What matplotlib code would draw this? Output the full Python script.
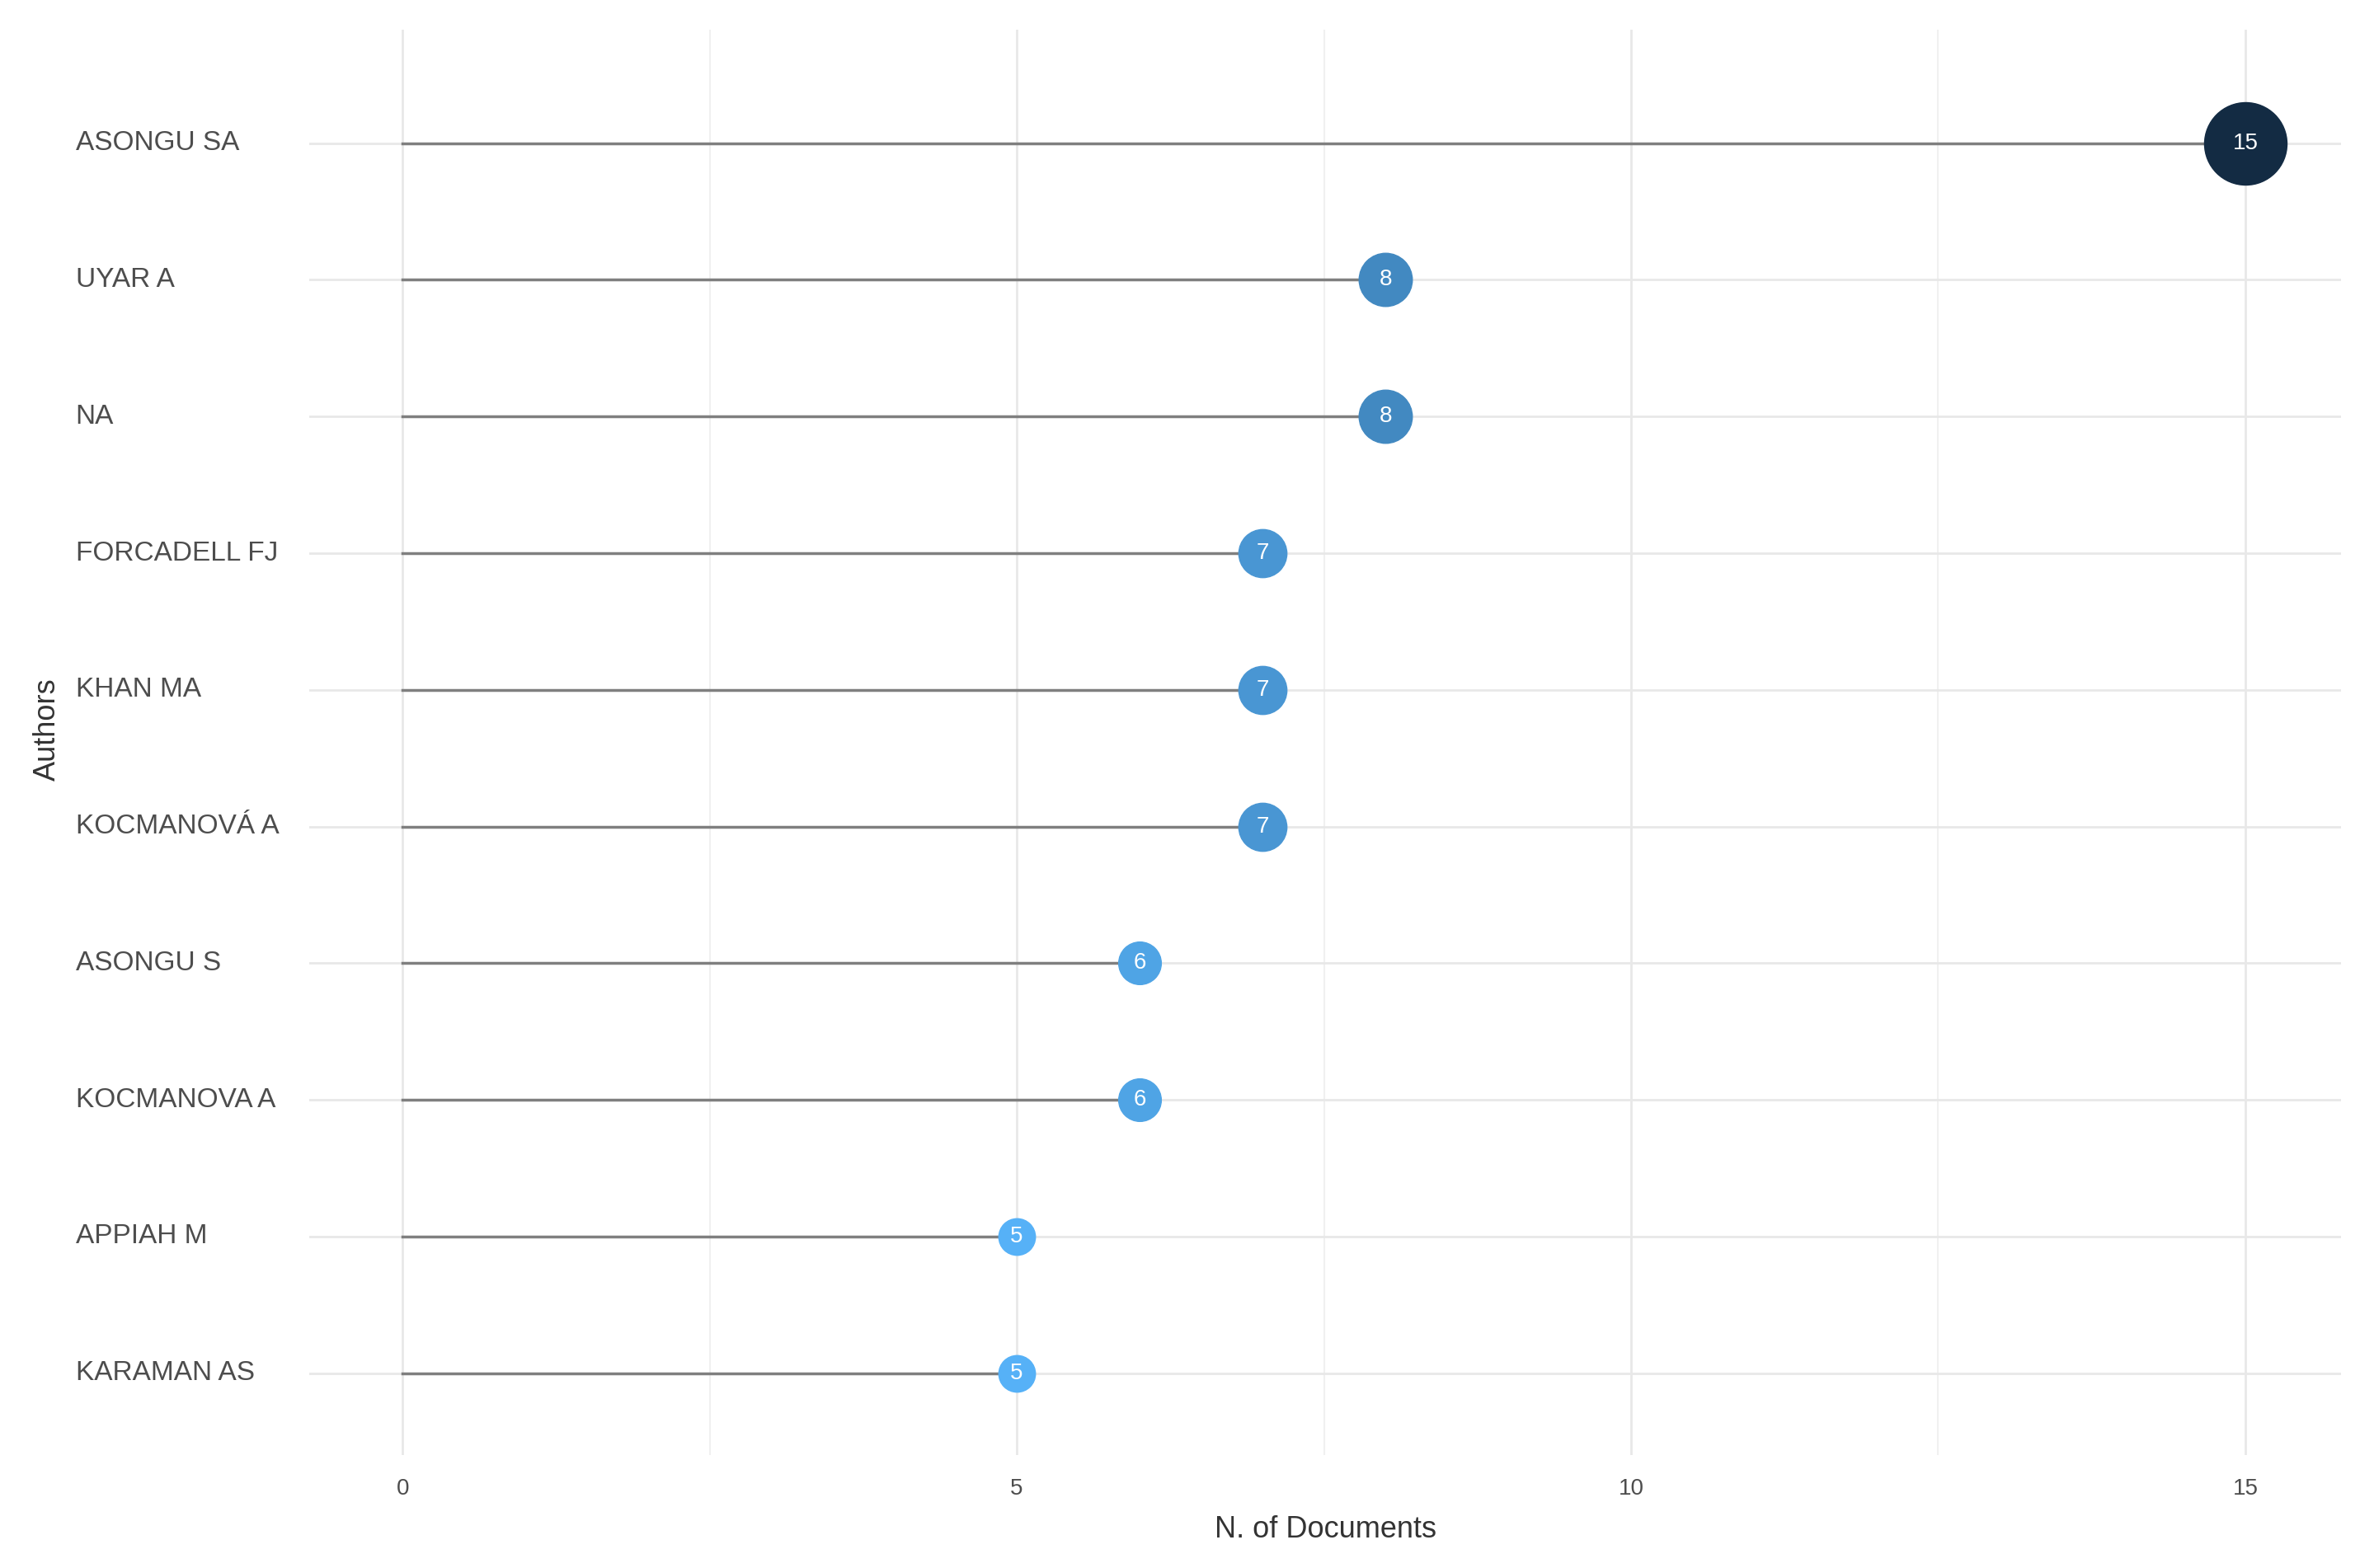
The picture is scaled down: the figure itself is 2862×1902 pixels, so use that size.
import numpy as np
import matplotlib.pyplot as plt
import matplotlib.colors as mcolors

authors = ["ASONGU SA", "UYAR A", "NA", "FORCADELL FJ", "KHAN MA",
           "KOCMANOVÁ A", "ASONGU S", "KOCMANOVA A", "APPIAH M", "KARAMAN AS"]
n_docs = [15, 8, 8, 7, 7, 7, 6, 6, 5, 5]

plt.rcParams['font.family'] = ['Liberation Sans', 'DejaVu Sans']

fig = plt.figure(figsize=(28.62, 19.02), dpi=100)
ax = fig.add_axes([0.131, 0.072, 0.861, 0.909])

# ggplot-like continuous blue scale
cmap = mcolors.LinearSegmentedColormap.from_list("gg", ["#56B1F7", "#132B43"])
vmin, vmax = min(n_docs), max(n_docs)

ypos = list(range(len(authors) - 1, -1, -1))
for y, v in zip(ypos, n_docs):
    t = (v - vmin) / (vmax - vmin)
    ax.plot([0, v], [y, y], color="#7f7f7f", lw=2.5, zorder=2)
    # area scales with value
    ms = 32 + 40 * (np.sqrt(v) - np.sqrt(vmin)) / (np.sqrt(vmax) - np.sqrt(vmin))
    ax.plot(v, y, "o", ms=ms, color=cmap(t), zorder=3)
    ax.text(v, y, str(v), ha="center", va="center", color="white",
            fontsize=20, zorder=4)

ax.set_xlim(-0.76, 15.78)
ax.set_ylim(-0.6, 9.83)
ax.set_xticks([0, 5, 10, 15])
ax.set_xticks([2.5, 7.5, 12.5], minor=True)
ax.set_yticks(ypos)
ax.set_yticklabels([])
ax.tick_params(length=0, which="both", labelsize=20, labelcolor="#4d4d4d", pad=20)
ax.grid(True, which="major", color="#e8e8e8", lw=2)
ax.grid(True, which="minor", axis="x", color="#f0f0f0", lw=1.5)
for s in ax.spines.values():
    s.set_visible(False)

for y, name in zip(ypos, authors):
    fig.text(0.032, ax.transData.transform((0, y))[1] / fig.bbox.height, name,
             ha="left", va="center", fontsize=24, color="#4d4d4d")

fig.text(0.02, 0.535, "Authors", rotation=90, ha="center", va="center",
         fontsize=26, color="#333333")
ax.set_xlabel("N. of Documents", fontsize=26, color="#333333", labelpad=14)

fig.savefig("out.png", dpi=100, facecolor="white")
